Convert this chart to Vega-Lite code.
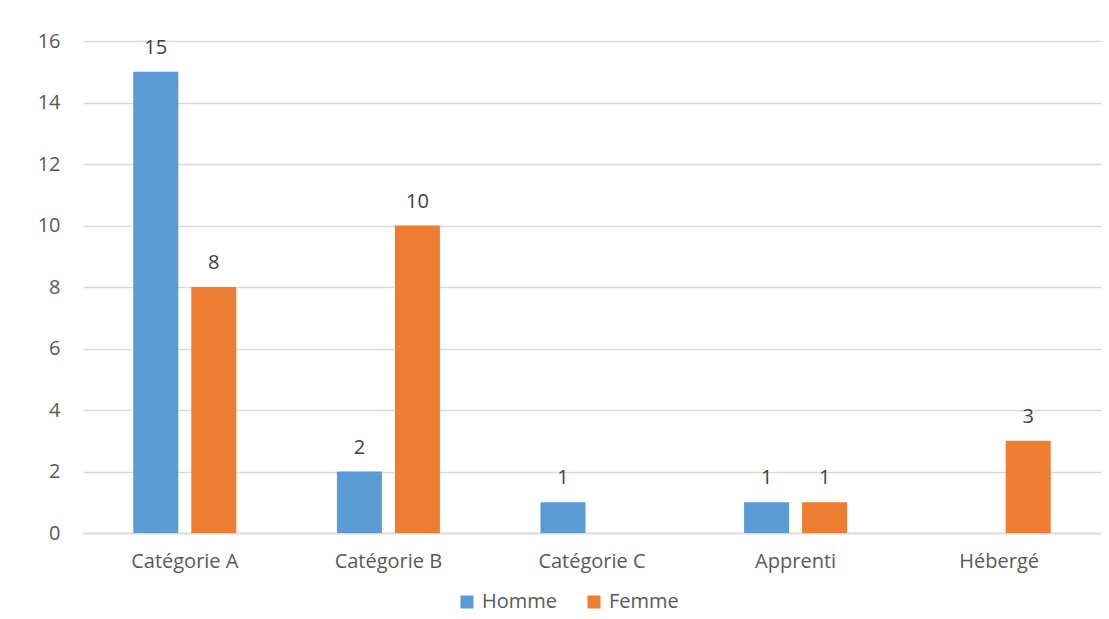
{
  "$schema": "https://vega.github.io/schema/vega-lite/v6.json",
  "width": 1018,
  "height": 492,
  "autosize": {"type": "none"},
  "padding": {"left": 83, "top": 41, "right": 8, "bottom": 86},
  "background": "#ffffff",
  "data": {
    "values": [
      {"categorie": "Catégorie A", "sexe": "Homme", "effectif": 15},
      {"categorie": "Catégorie A", "sexe": "Femme", "effectif": 8},
      {"categorie": "Catégorie B", "sexe": "Homme", "effectif": 2},
      {"categorie": "Catégorie B", "sexe": "Femme", "effectif": 10},
      {"categorie": "Catégorie C", "sexe": "Homme", "effectif": 1},
      {"categorie": "Apprenti", "sexe": "Homme", "effectif": 1},
      {"categorie": "Apprenti", "sexe": "Femme", "effectif": 1},
      {"categorie": "Hébergé", "sexe": "Femme", "effectif": 3}
    ]
  },
  "encoding": {
    "x": {
      "field": "categorie",
      "type": "nominal",
      "sort": ["Catégorie A", "Catégorie B", "Catégorie C", "Apprenti", "Hébergé"],
      "scale": {"paddingInner": 0, "paddingOuter": 0},
      "axis": {
        "title": null,
        "labelAngle": 0,
        "labelFont": "Open Sans",
        "labelFontSize": 20,
        "labelColor": "#595959",
        "labelPadding": 18,
        "ticks": false,
        "domainColor": "#d9d9d9",
        "domainWidth": 1.5
      }
    },
    "xOffset": {
      "field": "sexe",
      "type": "nominal",
      "sort": ["Homme", "Femme"],
      "scale": {"paddingInner": 0.224, "paddingOuter": 0.867}
    },
    "y": {
      "field": "effectif",
      "type": "quantitative",
      "scale": {"domain": [0, 16], "nice": false},
      "axis": {
        "title": null,
        "values": [0, 2, 4, 6, 8, 10, 12, 14, 16],
        "labelFont": "Open Sans",
        "labelFontSize": 20,
        "labelColor": "#595959",
        "labelPadding": 23,
        "ticks": false,
        "domain": false,
        "gridColor": "#d9d9d9",
        "gridWidth": 1.5
      }
    }
  },
  "layer": [
    {
      "mark": {"type": "bar"},
      "encoding": {
        "color": {
          "field": "sexe",
          "type": "nominal",
          "sort": ["Homme", "Femme"],
          "scale": {"domain": ["Homme", "Femme"], "range": ["#5b9bd5", "#ed7d31"]},
          "legend": {
            "title": null,
            "orient": "none",
            "direction": "horizontal",
            "legendX": 374,
            "legendY": 551,
            "symbolType": "square",
            "symbolSize": 169,
            "symbolStrokeWidth": 0,
            "labelFont": "Open Sans",
            "labelFontSize": 20,
            "labelColor": "#595959",
            "labelOffset": 5,
            "columnPadding": 26
          }
        }
      }
    },
    {
      "mark": {
        "type": "text",
        "baseline": "alphabetic",
        "dy": -18,
        "font": "Open Sans",
        "fontSize": 20,
        "color": "#404040"
      },
      "encoding": {
        "text": {"field": "effectif", "type": "quantitative"}
      }
    }
  ],
  "config": {
    "view": {"stroke": null}
  }
}
